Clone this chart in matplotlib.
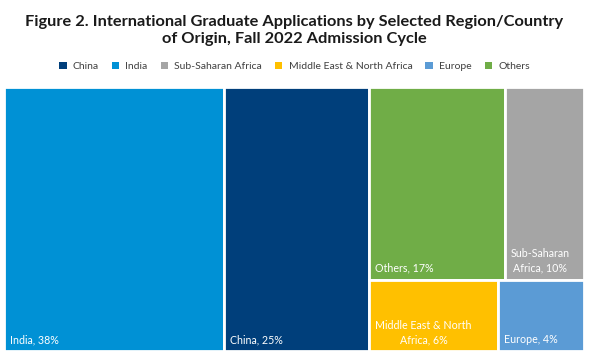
import matplotlib
matplotlib.use("Agg")
import matplotlib.pyplot as plt
from matplotlib.patches import Rectangle, Patch

plt.rcParams['font.family'] = ['Lato', 'DejaVu Sans']

categories = ["India", "China", "Others", "Sub-Saharan Africa", "Middle East & North Africa", "Europe"]
values = [38, 25, 17, 10, 6, 4]
labels = ["India, 38%", "China, 25%", "Others, 17%", "Sub-Saharan\nAfrica, 10%",
          "Middle East & North\nAfrica, 6%", "Europe, 4%"]
colors = {"China": "#003F7B", "India": "#0091D5", "Sub-Saharan Africa": "#A5A5A5",
          "Middle East & North Africa": "#FFC000", "Europe": "#5B9BD5", "Others": "#70AD47"}
legend_order = ["China", "India", "Sub-Saharan Africa", "Middle East & North Africa", "Europe", "Others"]
# layout structure: two full-height columns, then a block of two rows
columns = [[0], [1], [[2, 3], [4, 5]]]

W, H = 580.0, 264.0
fig = plt.figure(figsize=(5.89, 3.54), dpi=100)
ax = fig.add_axes([4/589, 3/354, W/589, H/354])
ax.set_xlim(0, W)
ax.set_ylim(0, H)
ax.axis('off')

total = sum(values)
rects = {}
x = 0.0
for col in columns:
    if isinstance(col[0], list):
        col_sum = sum(values[i] for row in col for i in row)
        w = W * col_sum / total
        ytop = H
        for row in col:
            row_sum = sum(values[i] for i in row)
            h = H * row_sum / col_sum
            xx = x
            for i in row:
                ww = w * values[i] / row_sum
                rects[i] = (xx, ytop - h, ww, h)
                xx += ww
            ytop -= h
        x += w
    else:
        i = col[0]
        w = W * values[i] / total
        rects[i] = (x, 0, w, H)
        x += w

for i, (rx, ry, rw, rh) in rects.items():
    ax.add_patch(Rectangle((rx, ry), rw, rh, facecolor=colors[categories[i]],
                           edgecolor='white', linewidth=2))
    ax.text(rx + 6, ry + 6, labels[i], color='white', fontsize=7.7,
            ha='left', va='bottom', multialignment='center', linespacing=1.35)

fig.text(0.5, 0.958, "Figure 2. International Graduate Applications by Selected Region/Country\nof Origin, Fall 2022 Admission Cycle",
         ha='center', va='top', fontsize=11.8, fontweight='bold', linespacing=1.3, color='#1a1a1a')

handles = [Patch(facecolor=colors[c], edgecolor='none') for c in legend_order]
fig.legend(handles, legend_order, loc='center', bbox_to_anchor=(0.5, 0.812), ncol=6,
           frameon=False, fontsize=7.5, handlelength=0.7, handleheight=0.7,
           handletextpad=0.6, columnspacing=1.25, labelcolor='#404040')

fig.savefig("out.png", dpi=100)
